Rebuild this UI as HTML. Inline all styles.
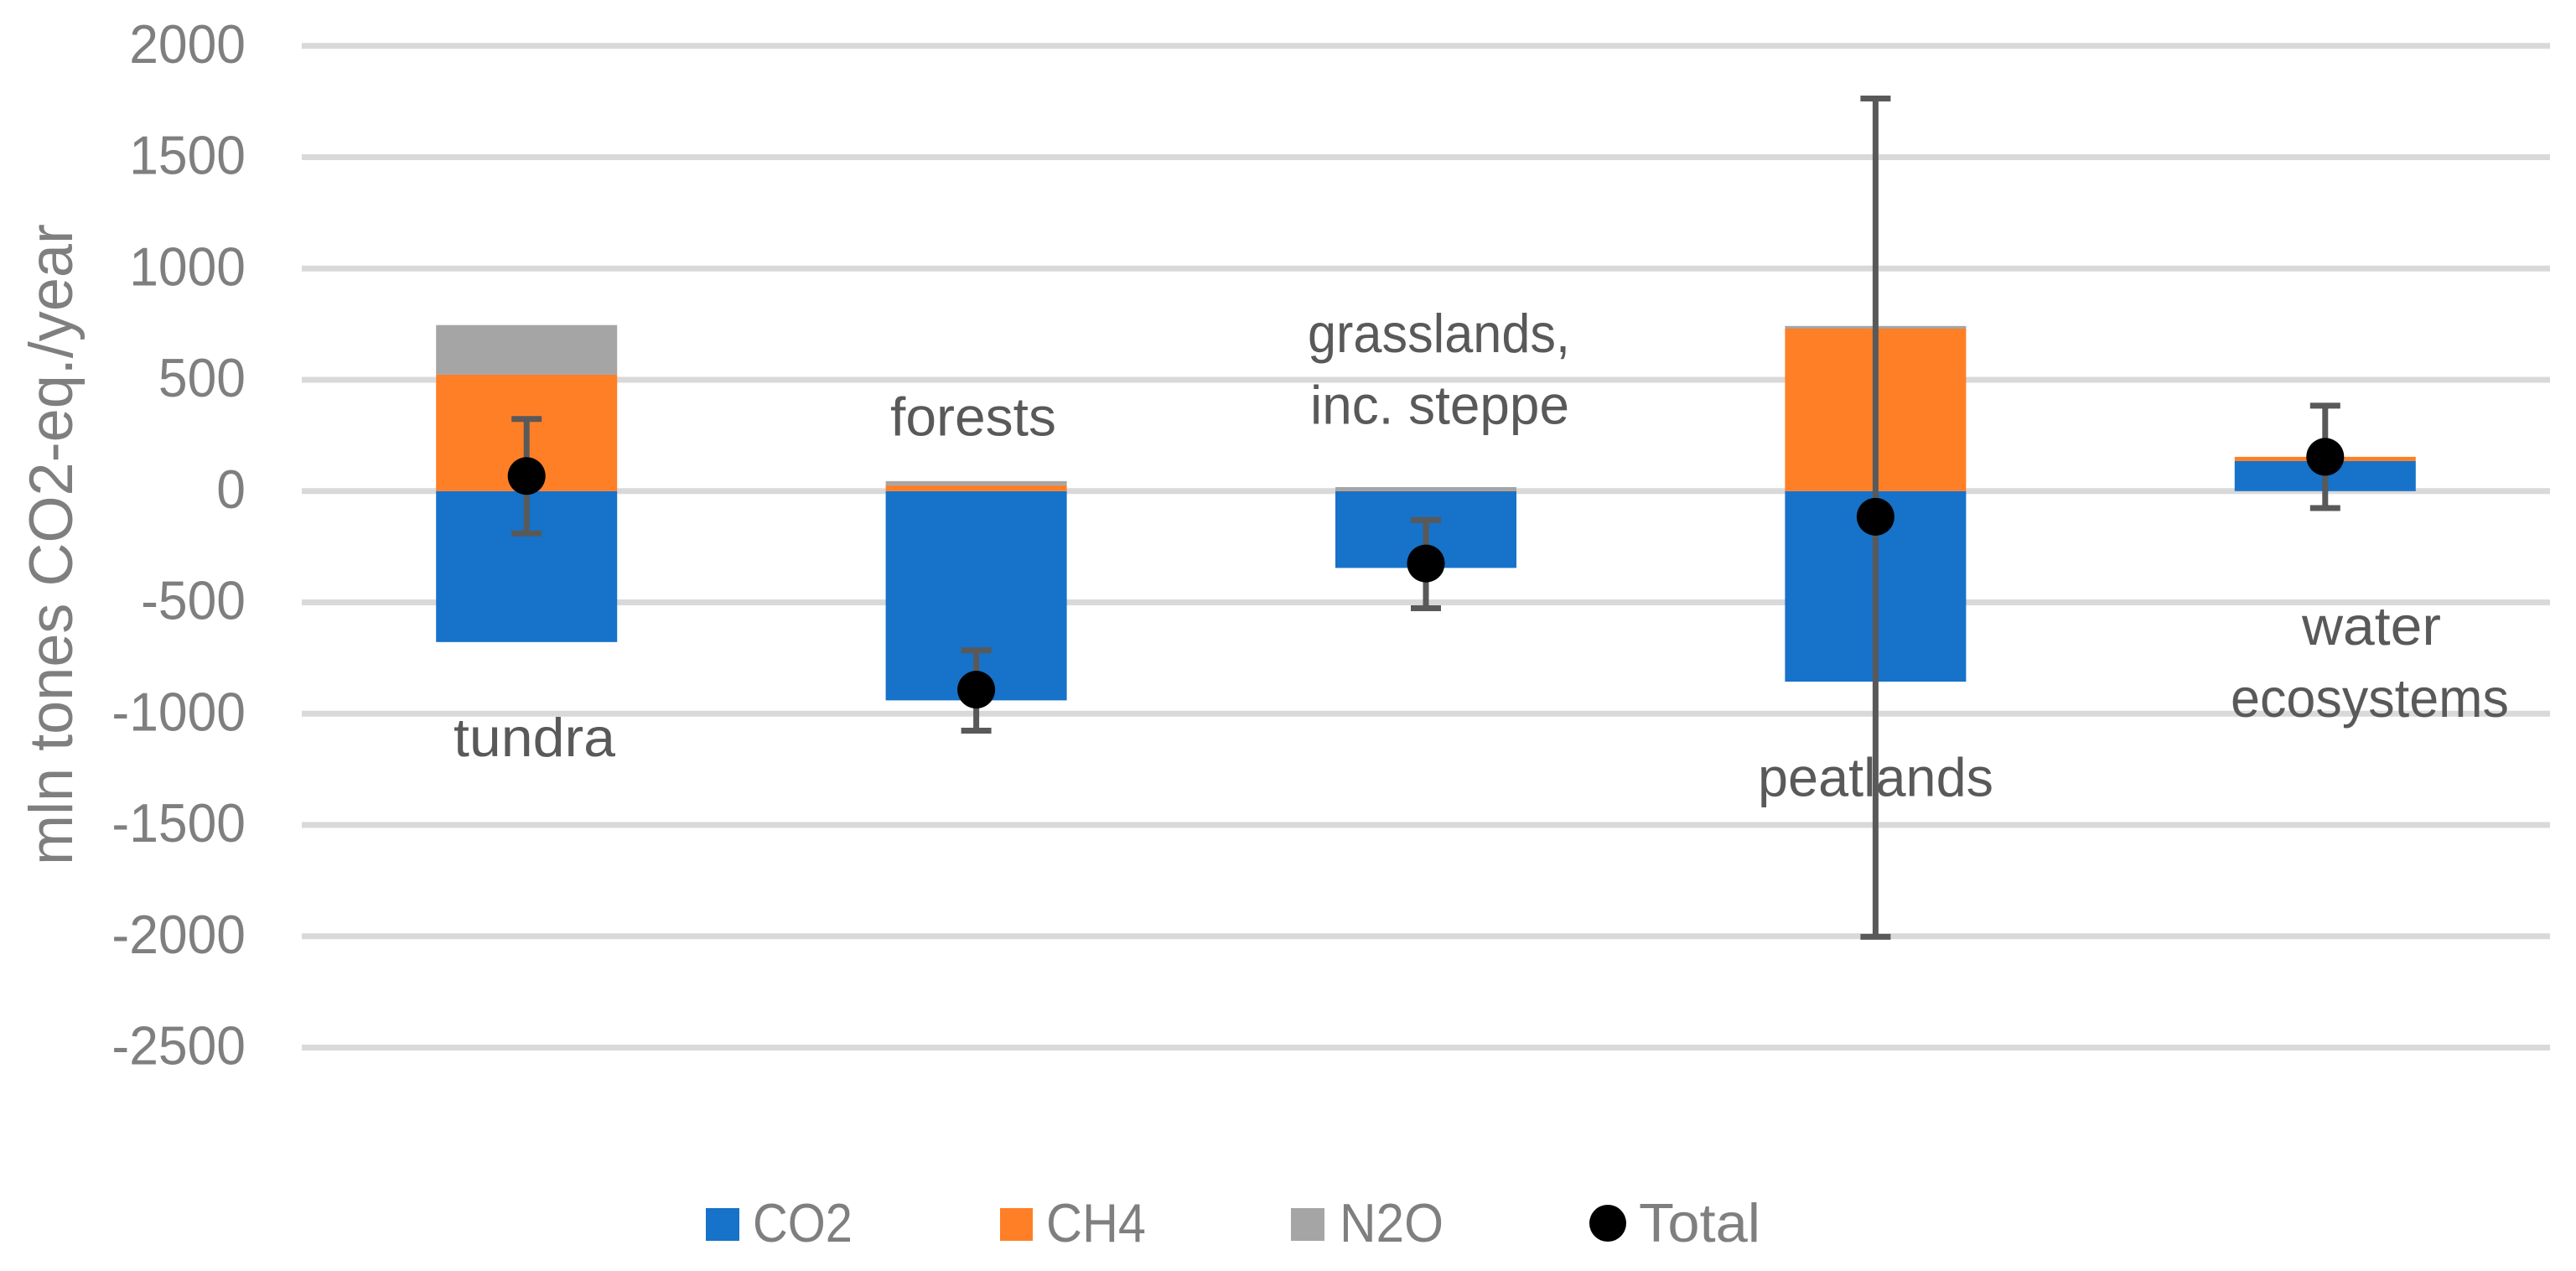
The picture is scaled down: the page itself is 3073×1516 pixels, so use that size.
<!DOCTYPE html>
<html lang="en">
<head>
<meta charset="utf-8">
<title>Greenhouse gas balance by ecosystem</title>
<style>
html,body{margin:0;padding:0;background:#fff;}
svg{display:block;}
text{font-family:"Liberation Sans",Arial,sans-serif;}
</style>
</head>
<body>
<svg id="chart" xmlns="http://www.w3.org/2000/svg" width="3073" height="1516" viewBox="0 0 3073 1516">
  <rect width="3073" height="1516" fill="#ffffff"/>
  <g id="grid"></g>
  <g id="ticks"></g>
  <g id="bars"></g>
  <g id="errors"></g>
  <g id="points"></g>

  <text transform="translate(86,649.5) rotate(-90)" text-anchor="middle" font-size="73" fill="#7f7f7f" textLength="765" lengthAdjust="spacingAndGlyphs">mln tones CO2-eq./year</text>

  <g font-size="65" fill="#595959">
    <text x="541" y="902" textLength="193" lengthAdjust="spacingAndGlyphs">tundra</text>
    <text x="1062" y="519.5" textLength="198" lengthAdjust="spacingAndGlyphs">forests</text>
    <text x="1560" y="420" textLength="313" lengthAdjust="spacingAndGlyphs">grasslands,</text>
    <text x="1563" y="505.5" textLength="309" lengthAdjust="spacingAndGlyphs">inc. steppe</text>
    <text x="2097" y="949.5" textLength="281" lengthAdjust="spacingAndGlyphs">peatlands</text>
    <text x="2746" y="769" textLength="166" lengthAdjust="spacingAndGlyphs">water</text>
    <text x="2661" y="855" textLength="332" lengthAdjust="spacingAndGlyphs">ecosystems</text>
  </g>

  <g font-size="65" fill="#7f7f7f">
    <g>
      <rect x="842" y="1441" width="40" height="39" fill="#1772c9"/>
      <text x="898" y="1481" textLength="119" lengthAdjust="spacingAndGlyphs">CO2</text>
    </g>
    <g>
      <rect x="1193" y="1441" width="39" height="39" fill="#ff7f27"/>
      <text x="1248" y="1481" textLength="119" lengthAdjust="spacingAndGlyphs">CH4</text>
    </g>
    <g>
      <rect x="1540" y="1441" width="40" height="39" fill="#a5a5a5"/>
      <text x="1598" y="1481" textLength="124" lengthAdjust="spacingAndGlyphs">N2O</text>
    </g>
    <g>
      <circle cx="1918" cy="1459" r="22" fill="#000000"/>
      <text x="1955" y="1481" textLength="145" lengthAdjust="spacingAndGlyphs">Total</text>
    </g>
  </g>
</svg>

<script>
const categories = ["tundra", "forests", "grasslands", "peatlands", "water-ecosystems"];
const co2Values = [-678, -940, -345, -856, 135];
const ch4Values = [523, 26, 2, 730, 19];
const n2oValues = [223, 19, 16, 12, 0];
const totalValues = [68, -892, -325, -115, 154];
const errorUpper = [324, -715, -130, 1764, 384];
const errorLower = [-190, -1076, -526, -2002, -76];
const yTickLabels = [2000, 1500, 1000, 500, 0, -500, -1000, -1500, -2000, -2500];

const NS = "http://www.w3.org/2000/svg";
const plotLeft = 360, plotRight = 3042;
const zeroY = 585.8, pxPerUnit = 132.75 / 500;
const band = (plotRight - plotLeft) / categories.length;
const barWidth = 216;

function yScale(v) { return zeroY - v * pxPerUnit; }
function xScale(i) { return plotLeft + band * (i + 0.5); }

function make(parentId, tag) {
  const el = document.createElementNS(NS, tag);
  document.getElementById(parentId).appendChild(el);
  return el;
}
function line(el, x1, y1, x2, y2, color, w) {
  el.setAttribute("x1", x1);
  el.setAttribute("y1", y1);
  el.setAttribute("x2", x2);
  el.setAttribute("y2", y2);
  el.setAttribute("stroke", color);
  el.setAttribute("stroke-width", w);
}
function box(el, x, a, b, color) {
  el.setAttribute("x", x - barWidth / 2);
  el.setAttribute("y", Math.min(yScale(a), yScale(b)));
  el.setAttribute("width", barWidth);
  el.setAttribute("height", Math.abs(yScale(a) - yScale(b)));
  el.setAttribute("fill", color);
}

yTickLabels.forEach(function (t) {
  const g = make("grid", "line");
  
  
  line(g, plotLeft, yScale(t), plotRight, yScale(t), "#d9d9d9", 7);

  const lab = make("ticks", "text");
  
  
  lab.setAttribute("transform", "translate(293," + (yScale(t) + 20) + ") scale(0.96,1)");
  lab.setAttribute("text-anchor", "end");
  lab.setAttribute("font-size", "65");
  lab.setAttribute("fill", "#7f7f7f");
  lab.textContent = String(t);
});

categories.forEach(function (c, i) {
  const x = xScale(i);
  let posTop = 0;

  const co2 = make("bars", "rect");
  
  
  box(co2, x, 0, co2Values[i], "#1772c9");
  if (co2Values[i] > 0) posTop = co2Values[i];

  const ch4 = make("bars", "rect");
  
  
  box(ch4, x, posTop, posTop + ch4Values[i], "#ff7f27");
  posTop += ch4Values[i];

  const n2o = make("bars", "rect");
  
  
  box(n2o, x, posTop, posTop + n2oValues[i], "#a5a5a5");

  const stem = make("errors", "line");
  
  
  line(stem, x, yScale(errorUpper[i]), x, yScale(errorLower[i]), "#595959", 7);

  const capTop = make("errors", "line");
  
  
  line(capTop, x - 18, yScale(errorUpper[i]), x + 18, yScale(errorUpper[i]), "#595959", 7);

  const capBottom = make("errors", "line");
  
  
  line(capBottom, x - 18, yScale(errorLower[i]), x + 18, yScale(errorLower[i]), "#595959", 7);

  const dot = make("points", "circle");
  
  
  dot.setAttribute("cx", x);
  dot.setAttribute("cy", yScale(totalValues[i]));
  dot.setAttribute("r", 22.5);
  dot.setAttribute("fill", "#000000");
});
</script>
</body>
</html>
